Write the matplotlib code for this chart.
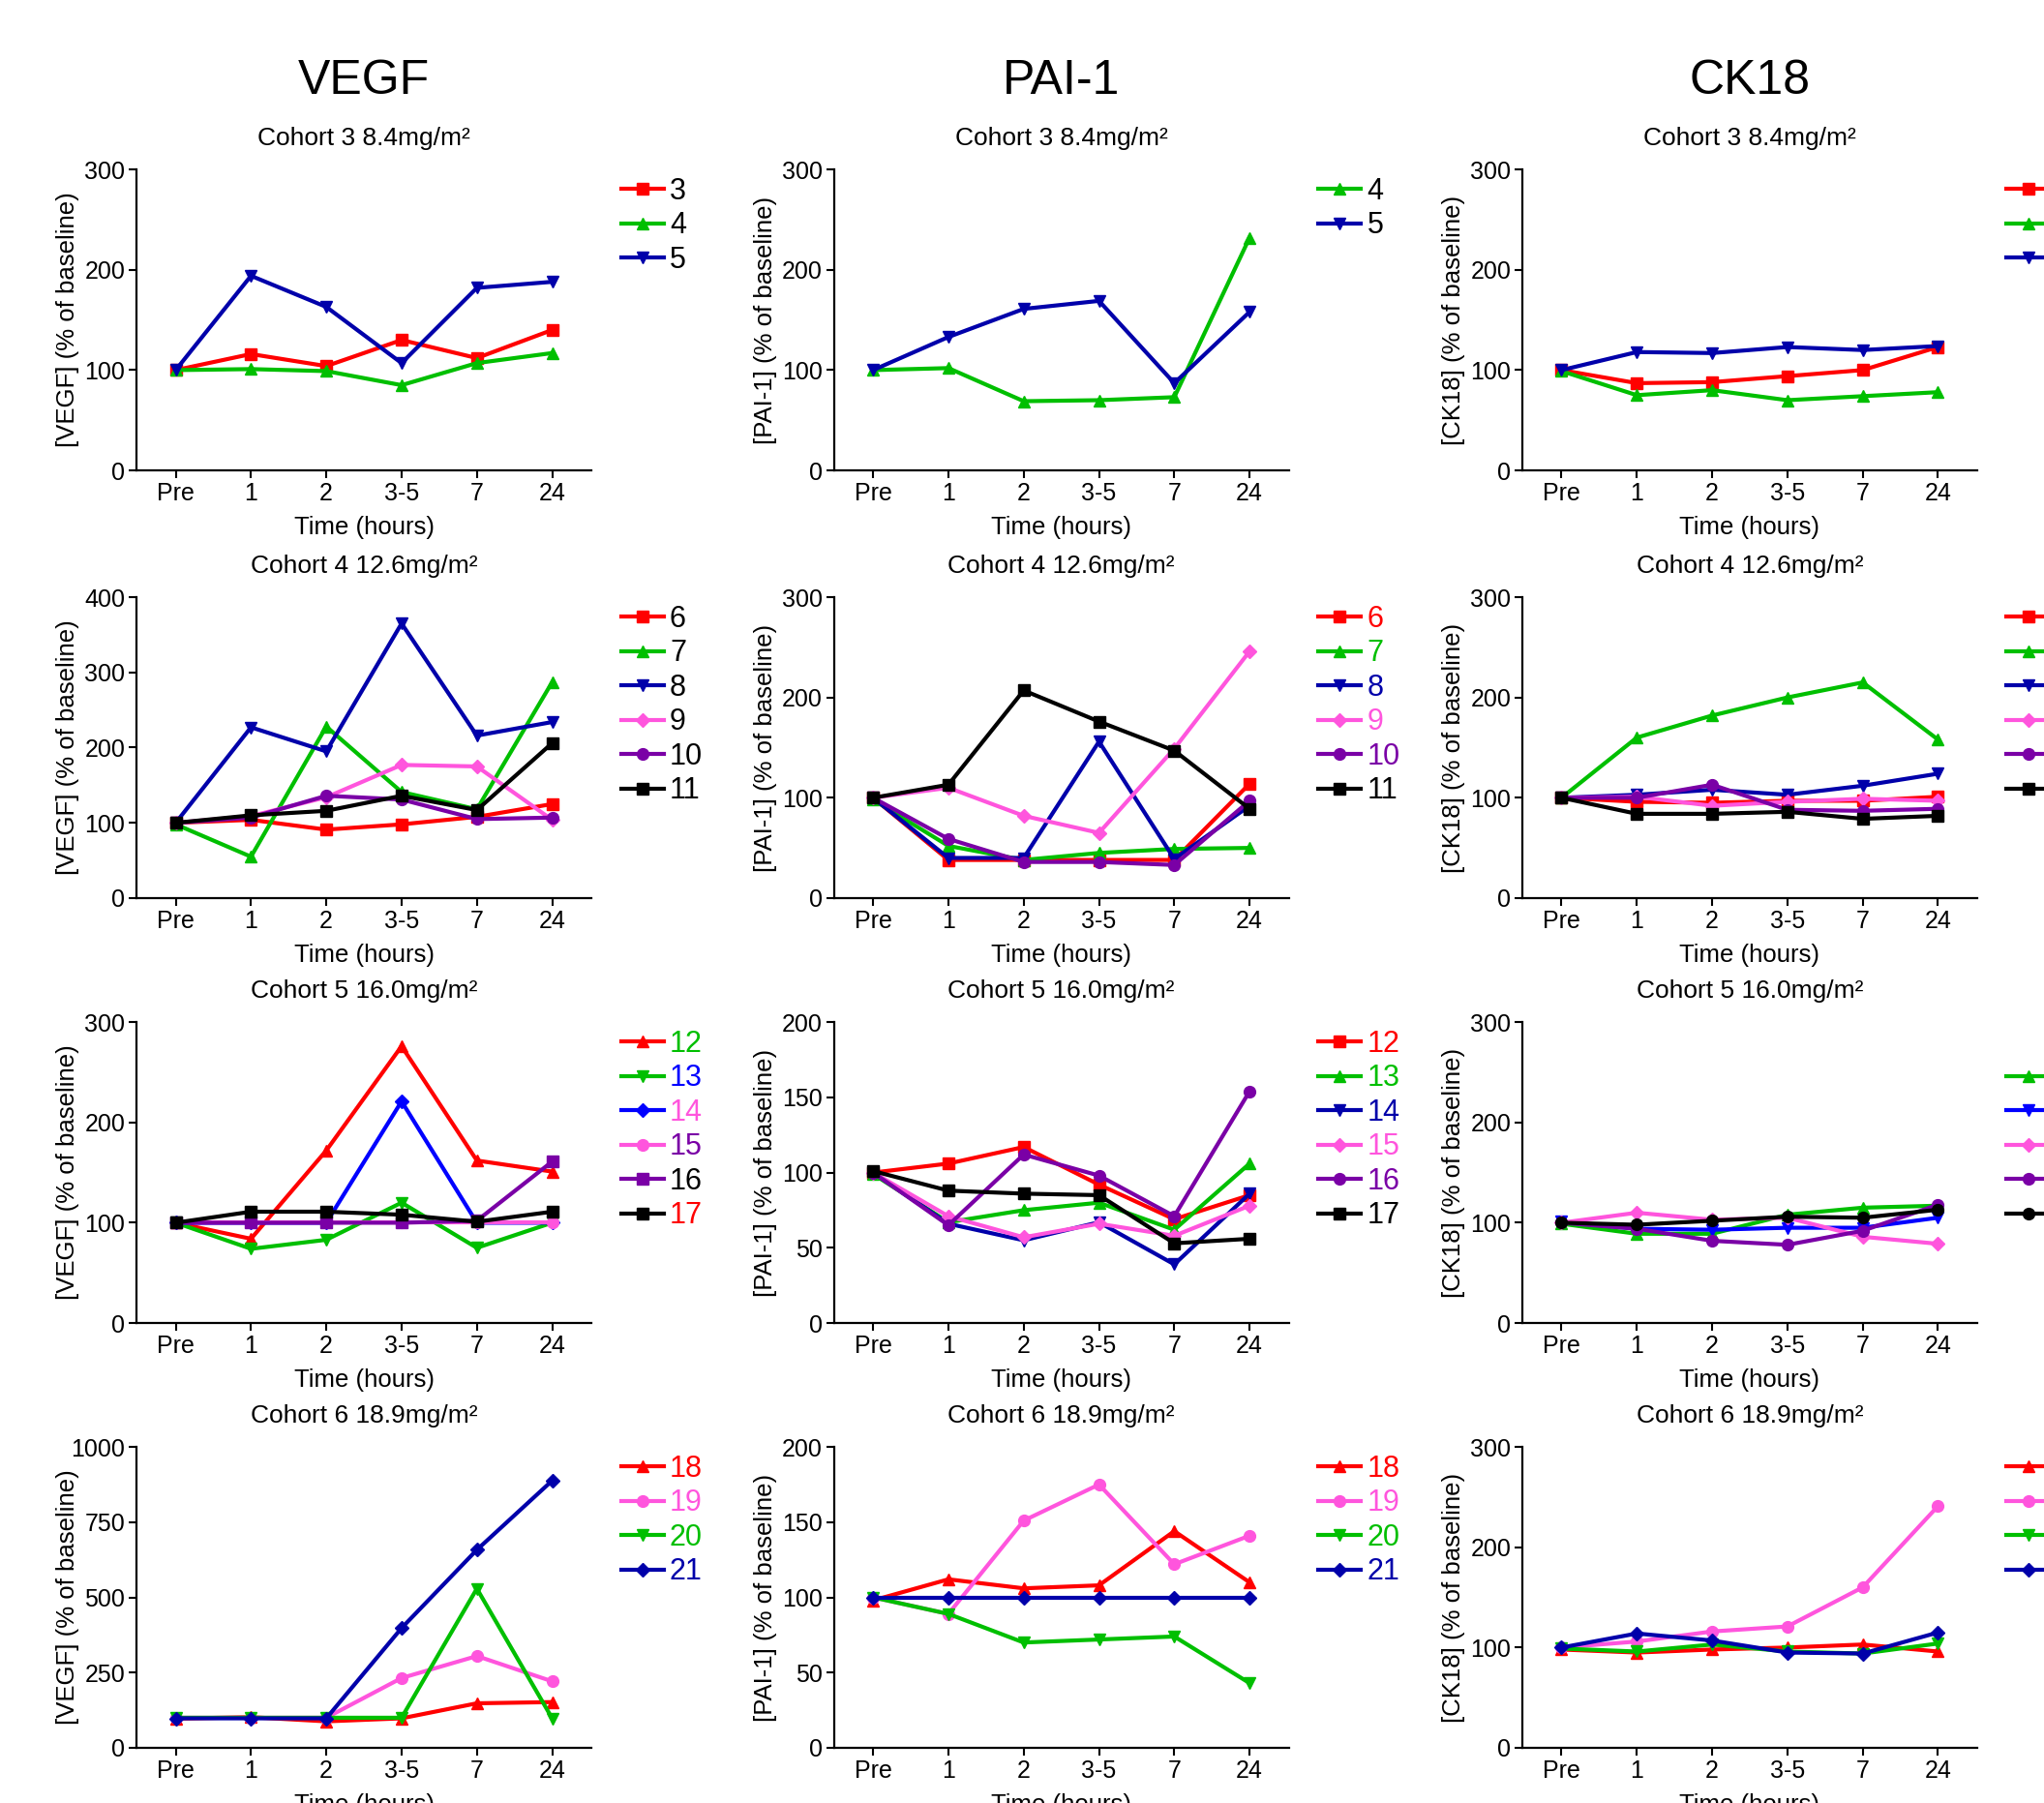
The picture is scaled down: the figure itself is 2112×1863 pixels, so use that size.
import matplotlib.pyplot as plt
from matplotlib import font_manager

times = ["Pre", "1", "2", "3-5", "7", "24"]
analytes = ["VEGF", "PAI-1", "CK18"]
cohorts = [
    "Cohort 3 8.4mg/m²",
    "Cohort 4 12.6mg/m²",
    "Cohort 5 16.0mg/m²",
    "Cohort 6 18.9mg/m²",
]

# ---- Cohort 3 (patients 3-5)
vegf_c3 = {
    "3": [100, 116, 104, 130, 112, 140],
    "4": [100, 101, 99, 85, 107, 117],
    "5": [100, 194, 163, 107, 182, 188],
}
pai_c3 = {
    "4": [100, 102, 69, 70, 73, 232],
    "5": [100, 133, 161, 169, 87, 158],
}
ck18_c3 = {
    "3": [100, 87, 88, 94, 100, 123],
    "4": [99, 75, 80, 70, 74, 78],
    "5": [100, 118, 117, 123, 120, 124],
}

# ---- Cohort 4 (patients 6-11)
vegf_c4 = {
    "6": [100, 104, 91, 98, 108, 125],
    "7": [98, 55, 228, 141, 118, 287],
    "8": [100, 227, 195, 365, 216, 234],
    "9": [100, 109, 134, 177, 175, 104],
    "10": [100, 107, 136, 131, 105, 107],
    "11": [100, 110, 116, 136, 117, 206],
}
pai_c4 = {
    "6": [100, 38, 38, 38, 38, 114],
    "7": [98, 52, 38, 45, 49, 50],
    "8": [100, 40, 40, 156, 39, 92],
    "9": [100, 110, 82, 65, 149, 246],
    "10": [100, 59, 36, 36, 33, 97],
    "11": [100, 113, 207, 176, 147, 89],
}
ck18_c4 = {
    "6": [100, 96, 95, 97, 97, 101],
    "7": [100, 160, 182, 200, 215, 158],
    "8": [100, 103, 108, 103, 112, 124],
    "9": [100, 101, 92, 96, 99, 97],
    "10": [100, 100, 113, 88, 87, 89],
    "11": [100, 84, 84, 86, 79, 82],
}

# ---- Cohort 5 (patients 12-17)
vegf_c5 = {
    "12": [100, 84, 172, 276, 162, 151],
    "13": [100, 74, 83, 120, 75, 100],
    "14": [100, 100, 100, 221, 100, 100],
    "15": [100, 100, 100, 100, 100, 100],
    "16": [100, 100, 100, 100, 102, 161],
    "17": [100, 111, 111, 108, 101, 111],
}
pai_c5 = {
    "12": [100, 106, 117, 92, 69, 85],
    "13": [99, 67, 75, 80, 62, 106],
    "14": [100, 66, 55, 67, 39, 86],
    "15": [100, 71, 57, 66, 58, 78],
    "16": [100, 65, 112, 98, 71, 154],
    "17": [101, 88, 86, 85, 53, 56],
}
ck18_c5 = {
    "12": [],
    "13": [99, 89, 89, 108, 115, 117],
    "14": [101, 94, 93, 95, 95, 105],
    "15": [100, 110, 103, 105, 86, 79],
    "16": [100, 94, 82, 78, 92, 118],
    "17": [100, 98, 102, 106, 105, 113],
}

# ---- Cohort 6 (patients 18-21)
vegf_c6 = {
    "18": [97, 102, 88, 98, 148, 152],
    "19": [100, 100, 100, 232, 305, 221],
    "20": [100, 100, 100, 100, 529, 98],
    "21": [98, 98, 98, 398, 658, 888],
}
pai_c6 = {
    "18": [98, 112, 106, 108, 144, 110],
    "19": [100, 89, 151, 175, 122, 141],
    "20": [100, 89, 70, 72, 74, 43],
    "21": [100, 100, 100, 100, 100, 100],
}
ck18_c6 = {
    "18": [98, 95, 98, 100, 103, 96],
    "19": [100, 106, 116, 121, 160, 241],
    "20": [99, 96, 103, 96, 94, 104],
    "21": [100, 114, 107, 95, 94, 115],
}

yticks_300 = [0, 100, 200, 300]
yticks_400 = [0, 100, 200, 300, 400]
yticks_200 = [0, 50, 100, 150, 200]
yticks_1000 = [0, 250, 500, 750, 1000]

# ---- styles
RED = "#ff0000"
GREEN = "#00bf00"
NAVY = "#0000aa"
BLUE = "#0000ff"
PINK = "#ff55dd"
PURPLE = "#7a00a6"
BLACK = "#000000"

sty_c3 = [(RED, "s"), (GREEN, "^"), (NAVY, "v")]
sty_c3_pai = [(GREEN, "^"), (NAVY, "v")]
sty_c4 = [(RED, "s"), (GREEN, "^"), (NAVY, "v"), (PINK, "D"), (PURPLE, "o"), (BLACK, "s")]
sty_c5_vegf = [(RED, "^"), (GREEN, "v"), (BLUE, "D"), (PINK, "o"), (PURPLE, "s"), (BLACK, "s")]
sty_c5_pai = [(RED, "s"), (GREEN, "^"), (NAVY, "v"), (PINK, "D"), (PURPLE, "o"), (BLACK, "s")]
sty_c5_ck = [(None, None), (GREEN, "^"), (BLUE, "v"), (PINK, "D"), (PURPLE, "o"), (BLACK, "o")]
sty_c6 = [(RED, "^"), (PINK, "o"), (GREEN, "v"), (NAVY, "D")]

panels = [
    [
        (vegf_c3, sty_c3, None, yticks_300),
        (pai_c3, sty_c3_pai, None, yticks_300),
        (ck18_c3, sty_c3, None, yticks_300),
    ],
    [
        (vegf_c4, sty_c4, None, yticks_400),
        (pai_c4, sty_c4, "own", yticks_300),
        (ck18_c4, sty_c4, None, yticks_300),
    ],
    [
        (vegf_c5, sty_c5_vegf, [GREEN, BLUE, PINK, PURPLE, BLACK, RED], yticks_300),
        (pai_c5, sty_c5_pai, "own", yticks_200),
        (ck18_c5, sty_c5_ck, None, yticks_300),
    ],
    [
        (vegf_c6, sty_c6, "own", yticks_1000),
        (pai_c6, sty_c6, "own", yticks_200),
        (ck18_c6, sty_c6, None, yticks_300),
    ],
]

available = {f.name for f in font_manager.fontManager.ttflist}
if "Liberation Sans Narrow" in available:
    NARROW = "Liberation Sans Narrow"
    k = 1.15
else:
    NARROW = "Liberation Sans"
    k = 1.0
plt.rcParams["font.family"] = [NARROW, "DejaVu Sans"]

fig = plt.figure(figsize=(21.12, 18.63), dpi=100)
lefts = [0.0668, 0.408, 0.7448]
bottoms = [0.7391, 0.5019, 0.2662, 0.0306]
w, h = 0.2225, 0.1669
x = list(range(len(times)))

for c, name in enumerate(analytes):
    fig.text(lefts[c] + w / 2, 1 - 84 / 1863, name, ha="center", va="center",
             fontsize=36 * k)

for r, row in enumerate(panels):
    for c, (data, styles, text_cols, yt) in enumerate(row):
        ax = fig.add_axes([lefts[c], bottoms[r], w, h])
        for (label, vals), (col, mk) in zip(data.items(), styles):
            if not vals:
                ax.plot([], [], color="none", label=" ")
                continue
            ax.plot(x, vals, color=col, marker=mk, lw=3,
                    ms=7 if mk == "D" else 8.5, label=label, clip_on=False)
        for s in ["top", "right"]:
            ax.spines[s].set_visible(False)
        for s in ["left", "bottom"]:
            ax.spines[s].set_linewidth(1.6)
        ax.set_xlim(-0.52, 5.52)
        ax.set_ylim(0, yt[-1])
        ax.set_xticks(x, times)
        ax.set_yticks(yt)
        ax.tick_params(direction="out", length=5.5, width=1.5, labelsize=18 * k, pad=3)
        ax.set_xlabel("Time (hours)", fontsize=18.5 * k)
        ax.xaxis.set_label_coords(0.5, -0.15)
        ax.set_ylabel(f"[{analytes[c]}] (% of baseline)", fontsize=18.5,
                      family="Liberation Sans")
        ax.yaxis.set_label_coords(-0.125, 0.5)
        ax.set_title(cohorts[r], fontsize=19 * k, pad=18)
        leg = ax.legend(loc="upper left", bbox_to_anchor=(1.065, 0.975), frameon=False,
                        fontsize=22 * k, handlelength=1.45, handletextpad=0.2,
                        labelspacing=0.18, borderpad=0, borderaxespad=0)
        for i, t in enumerate(leg.get_texts()):
            if text_cols == "own":
                t.set_color(styles[i][0])
            elif text_cols is not None:
                t.set_color(text_cols[i])

fig.savefig("out.png", dpi=100)
